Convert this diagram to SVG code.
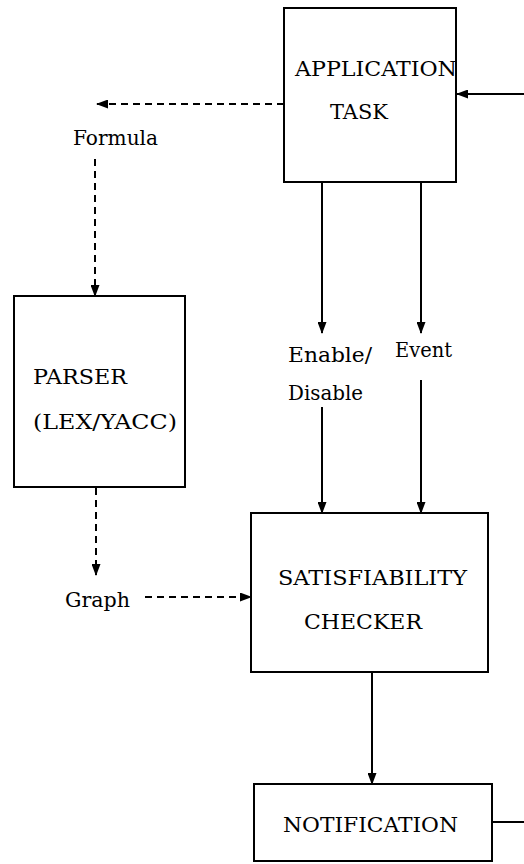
<svg xmlns="http://www.w3.org/2000/svg" width="524" height="864" viewBox="0 0 524 864">
<style>
.box{fill:#fff;stroke:#000;stroke-width:2}
.t{font-family:"DejaVu Serif",serif;font-size:21px;fill:#000}
.c{fill:none;stroke:#000;stroke-width:2}
.d{stroke-dasharray:7 5}
</style>
<defs>
<marker id="ah" markerUnits="userSpaceOnUse" markerWidth="12" markerHeight="9" refX="11" refY="4.5" orient="auto">
<path d="M0,0 L12,4.5 L0,9 z" fill="#000"/>
</marker>
</defs>
<rect width="524" height="864" fill="#fff"/>
<g id="connectors">
<line class="c" x1="524" y1="94" x2="457" y2="94" marker-end="url(#ah)"/>
<line class="c d" x1="284" y1="104" x2="97" y2="104" marker-end="url(#ah)"/>
<line class="c d" x1="95" y1="159" x2="95" y2="296" marker-end="url(#ah)"/>
<line class="c d" x1="96" y1="488" x2="96" y2="575" marker-end="url(#ah)"/>
<line class="c d" x1="145" y1="597" x2="251" y2="597" marker-end="url(#ah)"/>
<line class="c" x1="322" y1="182" x2="322" y2="333" marker-end="url(#ah)"/>
<line class="c" x1="421" y1="182" x2="421" y2="333" marker-end="url(#ah)"/>
<line class="c" x1="322" y1="407" x2="322" y2="513" marker-end="url(#ah)"/>
<line class="c" x1="421" y1="380" x2="421" y2="513" marker-end="url(#ah)"/>
<line class="c" x1="372" y1="673" x2="372" y2="784" marker-end="url(#ah)"/>
<line class="c" x1="524" y1="822" x2="492" y2="822"/>
</g>
<g id="application-task">
<rect class="box" x="284" y="8" width="172" height="174"/>
<text class="t" x="295" y="76" textLength="162" lengthAdjust="spacingAndGlyphs">APPLICATION</text>
<text class="t" x="330" y="119" textLength="58" lengthAdjust="spacingAndGlyphs">TASK</text>
</g>
<g id="parser">
<rect class="box" x="14" y="296" width="171" height="191"/>
<text class="t" x="33" y="384" textLength="94" lengthAdjust="spacingAndGlyphs">PARSER</text>
<text class="t" x="33" y="429" textLength="144" lengthAdjust="spacingAndGlyphs">(LEX/YACC)</text>
</g>
<g id="satisfiability-checker">
<rect class="box" x="251" y="513" width="237" height="159"/>
<text class="t" x="278" y="585" textLength="189" lengthAdjust="spacingAndGlyphs">SATISFIABILITY</text>
<text class="t" x="304" y="629" textLength="118" lengthAdjust="spacingAndGlyphs">CHECKER</text>
</g>
<g id="notification">
<rect class="box" x="254" y="784" width="238" height="77"/>
<text class="t" x="283" y="832" textLength="175" lengthAdjust="spacingAndGlyphs">NOTIFICATION</text>
</g>
<g id="labels">
<text class="t" x="73" y="145" textLength="85" lengthAdjust="spacingAndGlyphs">Formula</text>
<text class="t" x="65" y="607" textLength="65" lengthAdjust="spacingAndGlyphs">Graph</text>
<text class="t" x="288" y="362" textLength="84" lengthAdjust="spacingAndGlyphs">Enable/</text>
<text class="t" x="288" y="400" textLength="75" lengthAdjust="spacingAndGlyphs">Disable</text>
<text class="t" x="395" y="357" textLength="57" lengthAdjust="spacingAndGlyphs">Event</text>
</g>
</svg>
